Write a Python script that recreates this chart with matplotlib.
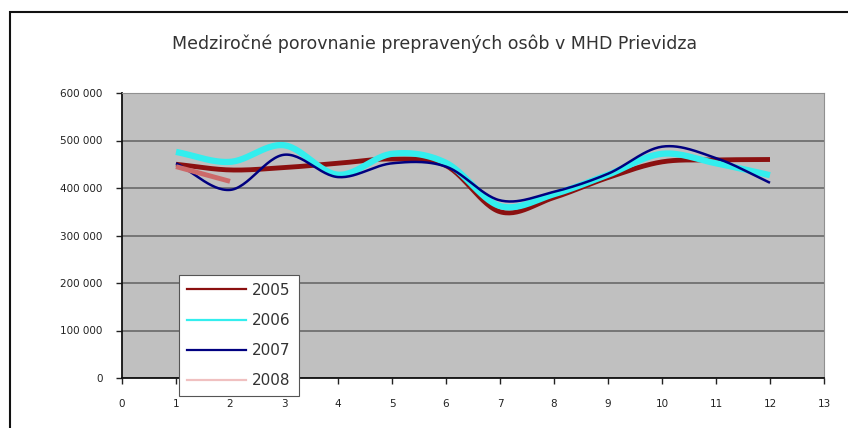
import numpy as np
import matplotlib
matplotlib.use('Agg')
import matplotlib.pyplot as plt
from matplotlib.lines import Line2D
from matplotlib.patches import Rectangle
from matplotlib.ticker import FuncFormatter

months = [1, 2, 3, 4, 5, 6, 7, 8, 9, 10, 11, 12]
y2005 = [450000, 438000, 443000, 452000, 461000, 447000, 350000, 380000, 422000, 455000, 459000, 460000]
y2006 = [476000, 455000, 490000, 428000, 472000, 453000, 362000, 387000, 428000, 472000, 452000, 427000]
y2007 = [452000, 396000, 470000, 423000, 452000, 445000, 374000, 392000, 430000, 487000, 463000, 411000]
months_2008 = [1, 2]
y2008 = [445000, 414000]


def smooth(x, y, n=30):
    # Catmull-Rom krivka ako "vyhladena ciara" v Exceli
    x = np.asarray(x, float)
    y = np.asarray(y, float)
    if len(x) < 3:
        return x, y
    px = np.concatenate([[2 * x[0] - x[1]], x, [2 * x[-1] - x[-2]]])
    py = np.concatenate([[2 * y[0] - y[1]], y, [2 * y[-1] - y[-2]]])
    xs, ys = [], []
    t = np.linspace(0, 1, n)
    for i in range(1, len(px) - 2):
        for p, out in ((px, xs), (py, ys)):
            p0, p1, p2, p3 = p[i - 1], p[i], p[i + 1], p[i + 2]
            out.extend(0.5 * ((2 * p1) + (-p0 + p2) * t
                              + (2 * p0 - 5 * p1 + 4 * p2 - p3) * t ** 2
                              + (-p0 + 3 * p1 - 3 * p2 + p3) * t ** 3))
    return np.array(xs), np.array(ys)


fig = plt.figure(figsize=(8.48, 4.28), dpi=100)
ax = fig.add_axes([122 / 848, 1 - 378 / 428, 702 / 848, 285 / 428])
ax.set_facecolor('#C0C0C0')

series = [
    ('2005', months, y2005, '#8B1010', 3.5),
    ('2006', months, y2006, '#33EEEE', 4.5),
    ('2007', months, y2007, '#000080', 1.8),
    ('2008', months_2008, y2008, '#CC6A6A', 3.5),
]
for name, xv, yv, col, lw in series:
    sx, sy = smooth(xv, yv)
    ax.plot(sx, sy, color=col, lw=lw, solid_capstyle='butt')

ax.set_xlim(0, 13)
ax.set_ylim(0, 600000)
ax.set_xticks(range(0, 14))
ax.set_yticks(range(0, 600001, 100000))
ax.yaxis.set_major_formatter(FuncFormatter(lambda v, p: f'{int(v):,}'.replace(',', ' ')))
ax.grid(axis='y', color='#707070', lw=1.3)
ax.set_axisbelow(True)
ax.tick_params(labelsize=7.5, colors='#222222', length=4, width=1, pad=11)
ax.tick_params(axis='y', pad=10)
for s in ['top', 'right']:
    ax.spines[s].set_color('#909090')
ax.spines['left'].set_color('#111111')
ax.spines['bottom'].set_color('#111111')
ax.spines['left'].set_linewidth(1.3)
ax.spines['bottom'].set_linewidth(1.3)

handles = [Line2D([], [], color=c if n != '2008' else '#F0C0C0', lw=1.6) for n, _, _, c, _ in series]
leg = fig.legend(handles, [s[0] for s in series], loc='upper left',
                 bbox_to_anchor=(179 / 848, 1 - 275 / 428), frameon=True, fancybox=False,
                 edgecolor='#555555', fontsize=11, handlelength=3.9, labelspacing=1.0,
                 borderpad=0.5, handletextpad=0.4, borderaxespad=0, framealpha=1)
leg.get_frame().set_linewidth(0.8)
for t in leg.get_texts():
    t.set_color('#333333')

fig.text(435 / 848, 1 - 44 / 428, 'Medziročné porovnanie prepravených osôb v MHD Prievidza',
         ha='center', va='center', fontsize=12.5, color='#333333')

fig.add_artist(Rectangle((10 / 848, -0.1), 1.2, 1 - 12 / 428 + 0.1, transform=fig.transFigure,
                         fill=False, edgecolor='#111111', lw=1.5))

fig.savefig('out.png', dpi=100)
